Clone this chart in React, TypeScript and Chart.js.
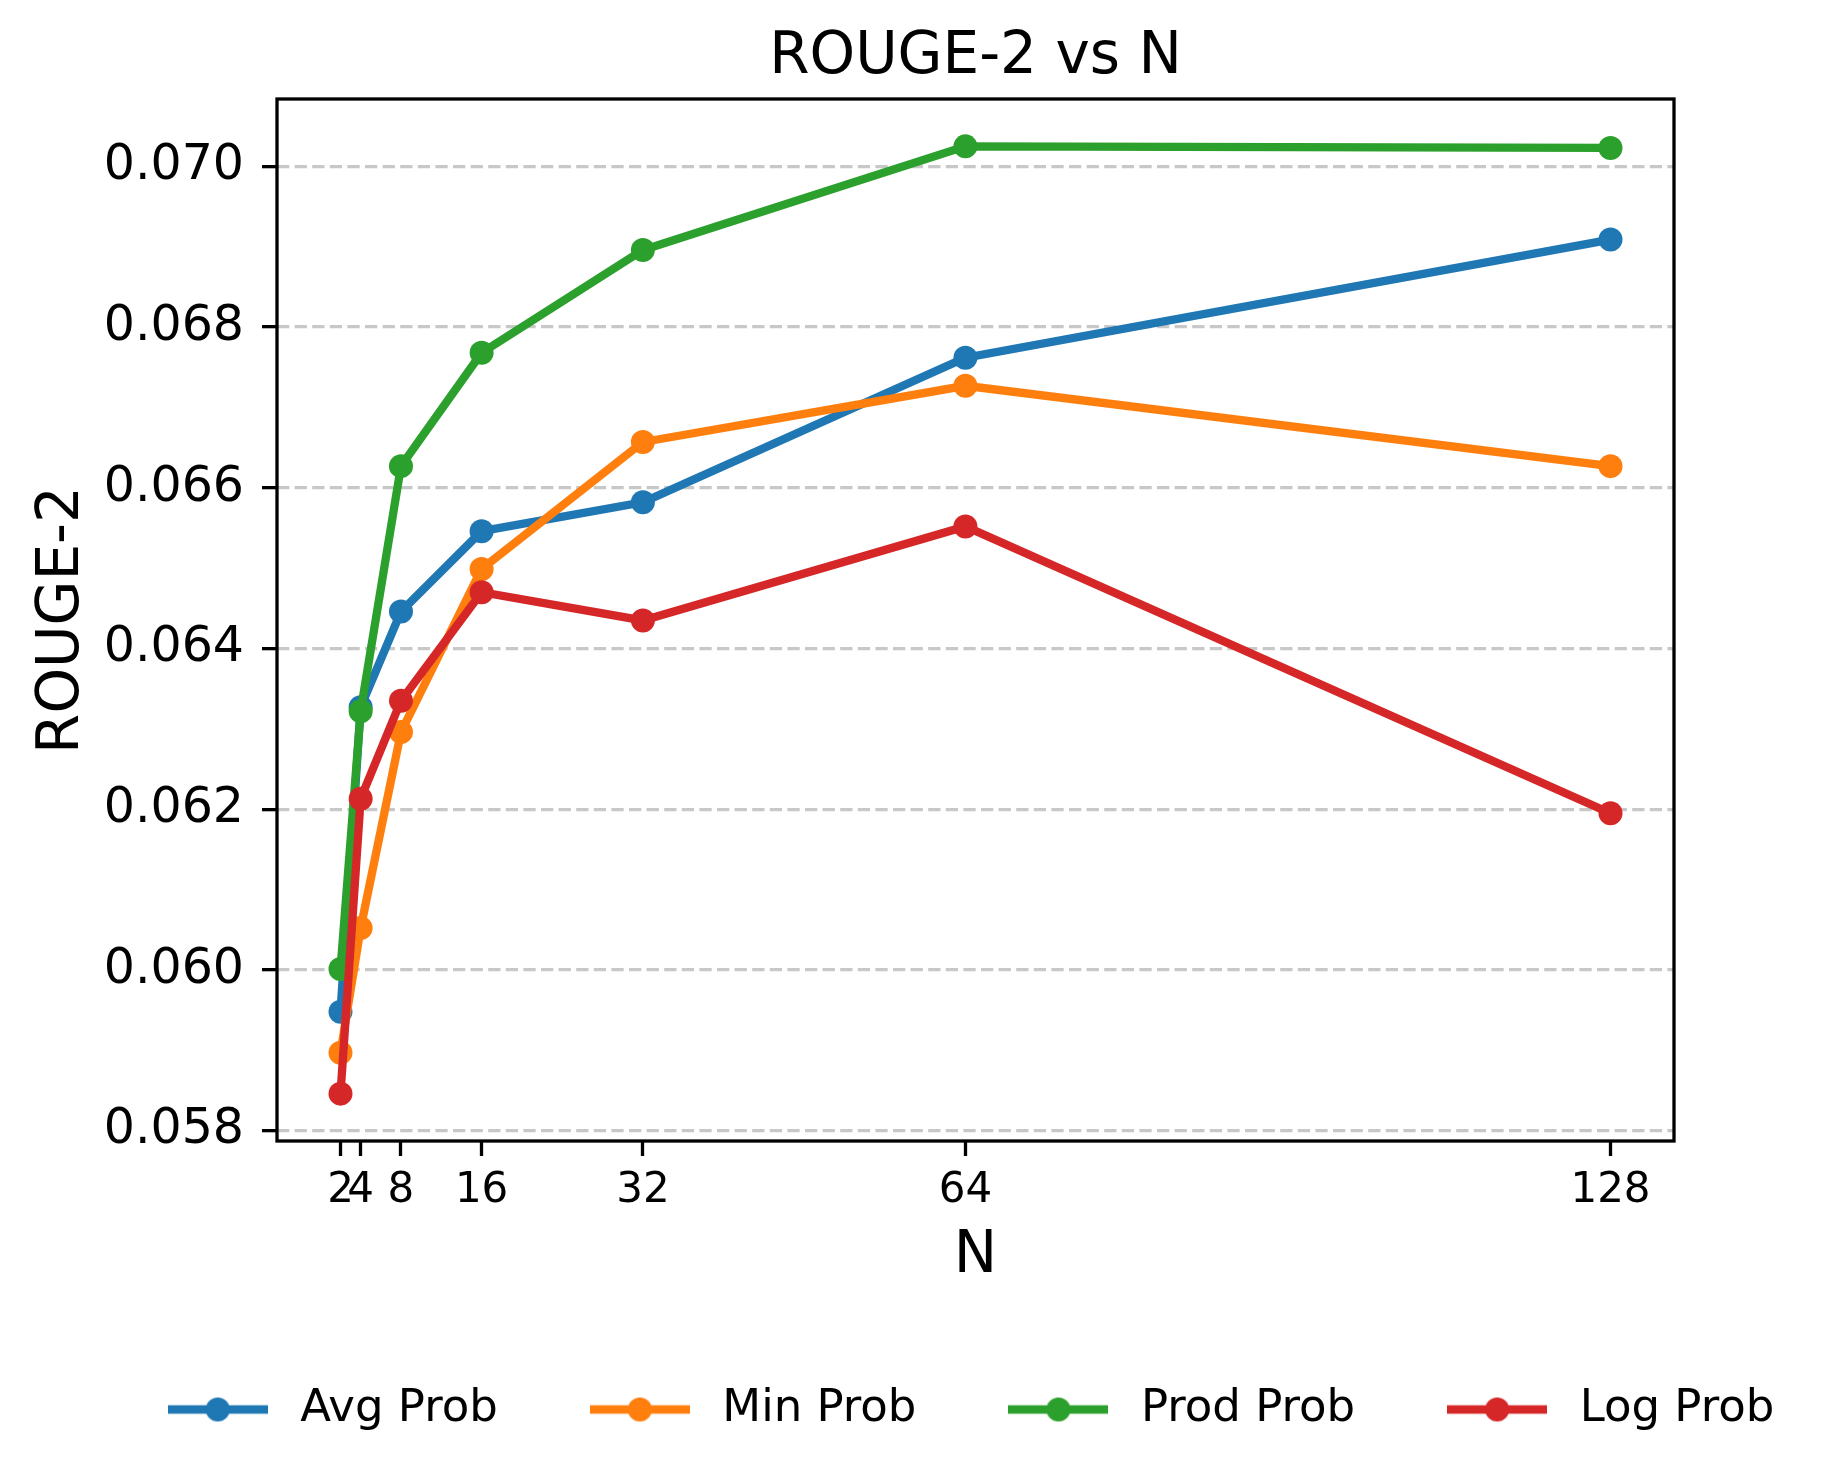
import React, { useEffect, useRef } from 'react';
import { Chart, registerables } from 'chart.js';

Chart.register(...registerables);

// ---- data ----
const nValues = [2, 4, 8, 16, 32, 64, 128];
const avgProb = [0.05948, 0.06327, 0.06446, 0.06546, 0.06582, 0.06762, 0.06909];
const minProb = [0.05897, 0.06052, 0.06296, 0.06499, 0.06657, 0.06727, 0.06627];
const prodProb = [0.06001, 0.06322, 0.06627, 0.06768, 0.06896, 0.07025, 0.07023];
const logProb = [0.05846, 0.06213, 0.06335, 0.0647, 0.06435, 0.06552, 0.06195];
const seriesNames = ['Avg Prob', 'Min Prob', 'Prod Prob', 'Log Prob'];
const seriesColors = ['#1f77b4', '#ff7f0e', '#2ca02c', '#d62728'];
const xTicks = [2, 4, 8, 16, 32, 64, 128];
const yTicks = [0.058, 0.06, 0.062, 0.064, 0.066, 0.068, 0.07];

const FONT = "'DejaVu Sans', 'Liberation Sans', sans-serif";

function legendIcon(color: string): HTMLCanvasElement {
  const c = document.createElement('canvas');
  c.width = 100;
  c.height = 26;
  const ctx = c.getContext('2d')!;
  ctx.strokeStyle = color;
  ctx.lineWidth = 8.3;
  ctx.beginPath();
  ctx.moveTo(0, 13);
  ctx.lineTo(100, 13);
  ctx.stroke();
  ctx.fillStyle = color;
  ctx.beginPath();
  ctx.arc(50, 13, 12, 0, Math.PI * 2);
  ctx.fill();
  return c;
}

const framePlugin = {
  id: 'frame',
  afterDatasetsDraw(chart: any) {
    const { ctx, chartArea } = chart;
    const { left, top, right, bottom } = chartArea;
    ctx.save();
    ctx.strokeStyle = '#000';
    ctx.lineWidth = 3.3;
    ctx.strokeRect(left, top, right - left, bottom - top);
    ctx.restore();
  },
};

const legendCenterPlugin = {
  id: 'legendCenter',
  afterLayout(chart: any) {
    const lg = chart.legend;
    if (!lg) return;
    const cx = (chart.chartArea.left + chart.chartArea.right) / 2 - 9.5;
    const dx = cx - (lg.left + lg.right) / 2;
    lg.left += dx;
    lg.right += dx;
  },
};

export default function App() {
  const ref = useRef<HTMLCanvasElement | null>(null);

  useEffect(() => {
    if (!ref.current) return;
    const all = [avgProb, minProb, prodProb, logProb];
    const flat = all.flat();
    const dMin = Math.min(...flat);
    const dMax = Math.max(...flat);
    const yPad = (dMax - dMin) * 0.05;
    const xPad = (nValues[nValues.length - 1] - nValues[0]) * 0.05;
    const icons = seriesColors.map(legendIcon);

    const datasets = all.map((vals, i) => ({
      label: seriesNames[i],
      data: nValues.map((n, j) => ({ x: n, y: vals[j] })),
      borderColor: seriesColors[i],
      backgroundColor: seriesColors[i],
      pointBackgroundColor: seriesColors[i],
      pointBorderWidth: 0,
      pointRadius: 12,
      pointHoverRadius: 12,
      borderWidth: 8.3,
      tension: 0,
      fill: false,
      order: all.length - 1 - i,
      xAxisID: 'x',
      yAxisID: 'y',
    }));

    const chart = new Chart(ref.current, {
      type: 'line',
      data: { datasets },
      plugins: [framePlugin, legendCenterPlugin],
      options: {
        responsive: false,
        animation: false,
        devicePixelRatio: 1,
        events: [],
        layout: { padding: { top: 0, left: 0, right: 0, bottom: 39 } },
        scales: {
          x: {
            type: 'linear',
            min: nValues[0] - xPad,
            max: nValues[nValues.length - 1] + xPad,
            afterBuildTicks: (s: any) => {
              s.ticks = xTicks.map((v) => ({ value: v }));
            },
            afterFit: (s: any) => {
              s.height = 164;
            },
            ticks: {
              font: { family: FONT, size: 42 },
              color: '#000',
              padding: 9.5,
              maxRotation: 0,
              minRotation: 0,
              autoSkip: false,
              callback: (v: any) => String(v),
            },
            grid: {
              drawOnChartArea: false,
              drawTicks: true,
              tickLength: 15,
              tickWidth: 3.3,
              tickColor: '#000',
            },
            border: { display: false },
            title: {
              display: true,
              text: 'N',
              color: '#000',
              font: { family: FONT, size: 58, lineHeight: 1 },
              padding: { top: 0, bottom: 19 },
            },
          },
          y: {
            type: 'linear',
            position: 'left',
            min: dMin - yPad,
            max: dMax + yPad,
            afterBuildTicks: (s: any) => {
              s.ticks = yTicks.map((v) => ({ value: v }));
            },
            afterFit: (s: any) => {
              s.width = 277;
            },
            ticks: {
              font: { family: FONT, size: 49 },
              color: '#000',
              padding: 18,
              callback: (v: any) => Number(v).toFixed(3),
            },
            grid: {
              color: '#c8c8c8',
              lineWidth: 3.3,
              drawTicks: true,
              tickLength: 15,
              tickWidth: 3.3,
              tickColor: '#000',
              tickBorderDash: [],
            },
            border: { display: false, dash: [12.3, 5.3] },
            title: {
              display: true,
              text: 'ROUGE-2',
              color: '#000',
              font: { family: FONT, size: 58, lineHeight: 1 },
              padding: { top: 33.5, bottom: 0 },
            },
          },
          yRight: {
            type: 'linear',
            position: 'right',
            display: true,
            grid: { display: false },
            ticks: { display: false },
            border: { display: false },
            afterFit: (s: any) => {
              s.width = 150;
            },
          },
        },
        plugins: {
          tooltip: { enabled: false },
          title: {
            display: true,
            text: 'ROUGE-2 vs N',
            color: '#000',
            fullSize: false,
            font: { family: FONT, size: 58, weight: 'normal', lineHeight: 1 },
            padding: { top: 29, bottom: 12 },
          },
          legend: {
            display: true,
            position: 'bottom',
            align: 'center',
            labels: {
              usePointStyle: true,
              pointStyleWidth: 120,
              padding: 82,
              color: '#000',
              font: { family: FONT, size: 45 },
              sort: (a: any, b: any) => a.datasetIndex - b.datasetIndex,
              generateLabels: (c: any) => {
                const items = (Chart.defaults.plugins.legend.labels as any).generateLabels(c);
                return items.map((it: any) => ({
                  ...it,
                  pointStyle: icons[it.datasetIndex],
                  lineWidth: 0,
                }));
              },
            },
          },
        },
      } as any,
    });
    return () => chart.destroy();
  }, []);

  return (
    <div style={{ position: 'fixed', left: 0, top: 0, width: 1824, height: 1481, background: '#fff' }}>
      <canvas ref={ref} width={1824} height={1481} style={{ display: 'block', width: 1824, height: 1481 }} />
    </div>
  );
}
